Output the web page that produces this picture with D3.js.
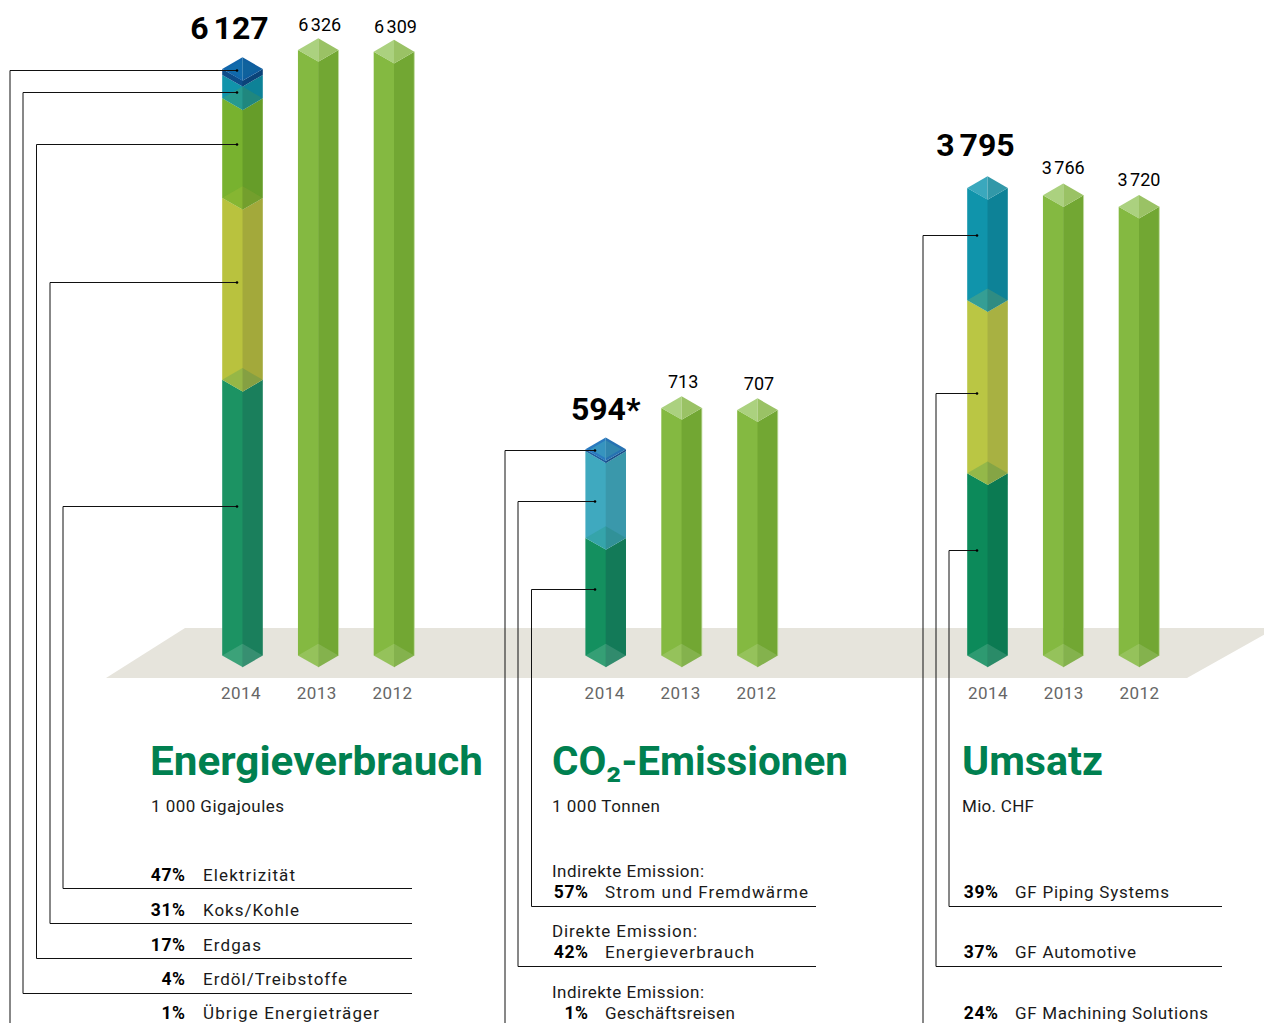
<!DOCTYPE html>
<html>
<head>
<meta charset="utf-8">
<style>
html, body { margin: 0; padding: 0; background: #fff; overflow: hidden; }
svg { display: block; }
text { font-family: Roboto, sans-serif; fill: #1a1a1a; }
.domain { display: none; }
</style>
<script src="https://cdn.jsdelivr.net/npm/d3@7/dist/d3.min.js"></script>
</head>
<body>
<script>
"use strict";

var years = ['2014', '2013', '2012'];

var energyValues = [6127, 6326, 6309];
var energyLabels = ['6 127', '6 326', '6 309'];
var energyShares = [47, 31, 17, 4, 1];
var energyNames = ['Elektrizität', 'Koks/Kohle', 'Erdgas', 'Erdöl/Treibstoffe', 'Übrige Energieträger'];
// where each leader touches the stack, in percent of the stack height
var energyLeaders = [25.5, 63.7, 87.2, 96.1, 99.9];

var co2Values = [594, 713, 707];
var co2Labels = ['594*', '713', '707'];
var co2Shares = [57, 42, 1];
var co2Names = ['Strom und Fremdwärme', 'Energieverbrauch', 'Geschäftsreisen'];
var co2Notes = ['Indirekte Emission:', 'Direkte Emission:', 'Indirekte Emission:'];
var co2Leaders = [32.4, 75, 99.8];

var salesValues = [3795, 3766, 3720];
var salesLabels = ['3 795', '3 766', '3 720'];
var salesShares = [39, 37, 24];
var salesNames = ['GF Piping Systems', 'GF Automotive', 'GF Machining Solutions'];
var salesLeaders = [22.6, 56.2, 90];

var plain = {front: '#84b941', side: '#72a733', topL: '#abd17f', topR: '#9ac265'};

var panels = [
    {
        values: energyValues, labels: energyLabels, shares: energyShares, names: energyNames,
        leaders: energyLeaders, notes: null,
        domain: [0, 6326], range: [655.5, 50], xRange: [242.5, 394], yearShift: -2,
        bigShift: -13, bigRise: 30, smallShift: 1.5, smallRise: 19,
        colors: [['#1c9363', '#1a7f5c'], ['#b9c23e', '#a3a93b'], ['#78b22f', '#669d29'], ['#1194ab', '#0d8297'], ['#0d4d8a', '#0b4379']],
        top: ['#1166ab', '#0f5e9f'], inner: 0.12,
        title: 'Energieverbrauch', unit: '1 000 Gigajoules', titleX: 150, titleW: 333, unitX: 151, unitW: 133,
        nameW: [92, 96, 58, 144, 176],
        pctX: 185, nameX: 203, rowY: [881, 916, 951, 985, 1019], ruleY: [888, 923, 958, 993, null], ruleEnd: 412,
        legX: [63, 50, 36.5, 23, 10], legEnd: 237
    },
    {
        values: co2Values, labels: co2Labels, shares: co2Shares, names: co2Names,
        leaders: co2Leaders, notes: co2Notes,
        domain: [0, 713], range: [655.5, 408], xRange: [605.7, 757.5], yearShift: -1.5,
        bigShift: 0, bigRise: 29, smallShift: 1.5, smallRise: 20,
        colors: [['#14905f', '#137a58'], ['#3fa9bf', '#3a98ab'], ['#1c5f9f', '#17508b']],
        top: ['#2a7abf', '#2772b2'], inner: 0.55,
        title: 'CO₂-Emissionen', unit: '1 000 Tonnen', titleX: 552, titleW: 296, unitX: 552, unitW: 108,
        nameW: [203, 149, 130], noteW: [152, 145, 152],
        pctX: 588, nameX: 605, rowY: [898, 958, 1019], ruleY: [906, 966, null], ruleEnd: 816,
        legX: [531.5, 518, 505], legEnd: 595
    },
    {
        values: salesValues, labels: salesLabels, shares: salesShares, names: salesNames,
        leaders: salesLeaders, notes: null,
        // the drawn heights of this group start from a cut base, not from zero
        domain: [1923, 3795], range: [655.5, 188], xRange: [987.5, 1139], yearShift: 0,
        bigShift: -12, bigRise: 32, smallShift: 0, smallRise: 21,
        colors: [['#0c8a5a', '#0b7a52'], ['#bac644', '#a8b142'], ['#1094ab', '#0d8297']],
        top: ['#3aa8bd', '#3298a8'], inner: 0,
        title: 'Umsatz', unit: 'Mio. CHF', titleX: 962, titleW: 141, unitX: 962, unitW: 72,
        nameW: [154, 121, 193],
        pctX: 998, nameX: 1015, rowY: [898, 958, 1019], ruleY: [906, 966, null], ruleEnd: 1222,
        legX: [949, 936, 923], legEnd: 977
    }
];

var hw = 20.3;   // half width of a bar
var rise = 11.8; // depth of the diamond faces

var line = d3.line();

var svg = d3.select('body').append('svg')
    .attr('width', 1264)
    .attr('height', 1023);

// floor
svg.append('path')
    .attr('d', line([[185, 628], [1276, 628], [1187, 678], [106, 678]]) + 'Z')
    .attr('fill', '#e6e4dc');

// left faces run a little past the seam so no white shows between the two halves
function leftFace(cx, yTop, yBot) {
    return line([[cx - hw, yTop], [cx + 0.5, yTop + rise], [cx + 0.5, yBot + rise], [cx - hw, yBot]]) + 'Z';
}

function rightFace(cx, yTop, yBot) {
    return line([[cx + hw, yTop], [cx, yTop + rise], [cx, yBot + rise], [cx + hw, yBot]]) + 'Z';
}

function diamondHalf(cx, y, side, scale) {
    var s = scale || 1;
    return line([[cx, y - rise * s], [cx + side * hw * s, y], [cx, y + rise * s]]) + 'Z';
}

function drawTop(g, cx, y, colL, colR) {
    g.append('path').attr('d', diamondHalf(cx, y, -1)).attr('fill', colL);
    g.append('path').attr('d', diamondHalf(cx, y, 1)).attr('fill', colR);
}

function drawBottom(g, cx, y) {
    g.append('path').attr('d', diamondHalf(cx, y, -1)).attr('fill', '#fff').attr('fill-opacity', 0.14);
    g.append('path').attr('d', diamondHalf(cx, y, 1)).attr('fill', '#fff').attr('fill-opacity', 0.13);
}

// plain text squeezed to the width it has in the picture
function fitText(x, y, width, str) {
    return svg.append('text')
        .attr('x', x)
        .attr('y', y)
        .attr('font-size', 17)
        .attr('textLength', width)
        .attr('lengthAdjust', 'spacing')
        .text(str);
}

panels.forEach(function (p) {
    var y = d3.scaleLinear().domain(p.domain).range(p.range);
    var x = d3.scalePoint().domain(years).range(p.xRange);
    var base = y(p.domain[0]);

    var g = svg.append('g');

    // the two older years are plain green bars
    years.slice(1).forEach(function (year, i) {
        var cx = x(year);
        var yTop = y(p.values[i + 1]);
        var bar = g.append('g');
        bar.append('path').attr('d', leftFace(cx, yTop, base)).attr('fill', plain.front);
        bar.append('path').attr('d', rightFace(cx, yTop, base)).attr('fill', plain.side);
        bar.append('path')
            .attr('d', line([[cx + hw, yTop], [cx + hw, base]]))
            .attr('stroke', '#c3dca3')
            .attr('stroke-width', 0.8);
        drawTop(bar, cx, yTop, plain.topL, plain.topR);
        drawBottom(bar, cx, base);
    });

    // the current year is stacked by share
    var cx0 = x(years[0]);
    var yTop0 = y(p.values[0]);
    var shareY = d3.scaleLinear().domain([0, 100]).range([base, yTop0]);
    var cum = [0].concat(Array.from(d3.cumsum(p.shares)));
    var stack = g.append('g');

    p.shares.forEach(function (share, i) {
        var yBot = shareY(cum[i]);
        var yTop = shareY(cum[i + 1]);
        stack.append('path').attr('d', leftFace(cx0, yTop, yBot)).attr('fill', p.colors[i][0]);
        stack.append('path').attr('d', rightFace(cx0, yTop, yBot)).attr('fill', p.colors[i][1]);
        // lower segment showing through at the joint
        if (i > 0 && share > 2) {
            stack.append('path').attr('d', diamondHalf(cx0, yBot, -1))
                .attr('fill', p.colors[i - 1][0]).attr('fill-opacity', 0.22);
            stack.append('path').attr('d', diamondHalf(cx0, yBot, 1))
                .attr('fill', p.colors[i - 1][1]).attr('fill-opacity', 0.22);
        }
    });
    drawTop(stack, cx0, yTop0, p.top[0], p.top[1]);
    if (p.inner) {
        var innerCol = p.colors[p.colors.length - 2];
        stack.append('path').attr('d', diamondHalf(cx0, yTop0, -1, 0.76))
            .attr('fill', innerCol[0]).attr('fill-opacity', p.inner);
        stack.append('path').attr('d', diamondHalf(cx0, yTop0, 1, 0.76))
            .attr('fill', innerCol[1]).attr('fill-opacity', p.inner);
    }
    drawBottom(stack, cx0, base);

    // value labels
    p.labels.forEach(function (label, i) {
        var big = i === 0;
        g.append('text')
            .attr('x', x(years[i]) + (big ? p.bigShift : p.smallShift))
            .attr('y', y(p.values[i]) - (big ? p.bigRise : p.smallRise))
            .attr('text-anchor', 'middle')
            .attr('font-size', big ? 32 : 18)
            .attr('font-weight', big ? 700 : 400)
            .attr('word-spacing', big ? -3 : -2)
            .style('fill', '#000')
            .text(label);
    });

    // year axis
    var axis = d3.axisBottom(x).tickSize(0).tickPadding(0);
    var ax = svg.append('g')
        .attr('transform', 'translate(' + p.yearShift + ',687)')
        .call(axis);
    ax.selectAll('text')
        .attr('font-size', 17)
        .attr('letter-spacing', 0.5)
        .style('font-family', 'Roboto, sans-serif')
        .style('fill', '#666');

    // heading
    svg.append('text')
        .attr('x', p.titleX)
        .attr('y', 775)
        .attr('font-size', 40)
        .attr('font-weight', 700)
        .attr('textLength', p.titleW)
        .attr('lengthAdjust', 'spacingAndGlyphs')
        .style('fill', '#008050')
        .text(p.title);

    fitText(p.unitX, 812, p.unitW, p.unit);

    // legend rows, rules and leaders
    p.shares.forEach(function (share, i) {
        var rowY = p.rowY[i];
        svg.append('text')
            .attr('x', p.pctX + 0.6)
            .attr('y', rowY)
            .attr('text-anchor', 'end')
            .attr('font-size', 17.5)
            .attr('font-weight', 700)
            .attr('letter-spacing', 0.6)
            .style('fill', '#000')
            .text(share + '%');
        fitText(p.nameX, rowY, p.nameW[i], p.names[i]);
        if (p.notes) {
            fitText(552, rowY - 21.5, p.noteW[i], p.notes[i]);
        }

        var leaderY = Math.round(shareY(p.leaders[i])) + 0.5;
        var ruleY = p.ruleY[i];
        var pts = [[p.legEnd, leaderY], [p.legX[i], leaderY]];
        if (ruleY === null) {
            pts.push([p.legX[i], 1030]);
        } else {
            pts.push([p.legX[i], ruleY + 0.5], [p.ruleEnd, ruleY + 0.5]);
        }
        svg.append('path')
            .attr('d', line(pts))
            .attr('fill', 'none')
            .attr('stroke', '#111')
            .attr('stroke-width', 1);
        svg.append('circle')
            .attr('cx', p.legEnd)
            .attr('cy', leaderY)
            .attr('r', 1.3)
            .attr('fill', '#000');
    });
});
</script>
</body>
</html>
